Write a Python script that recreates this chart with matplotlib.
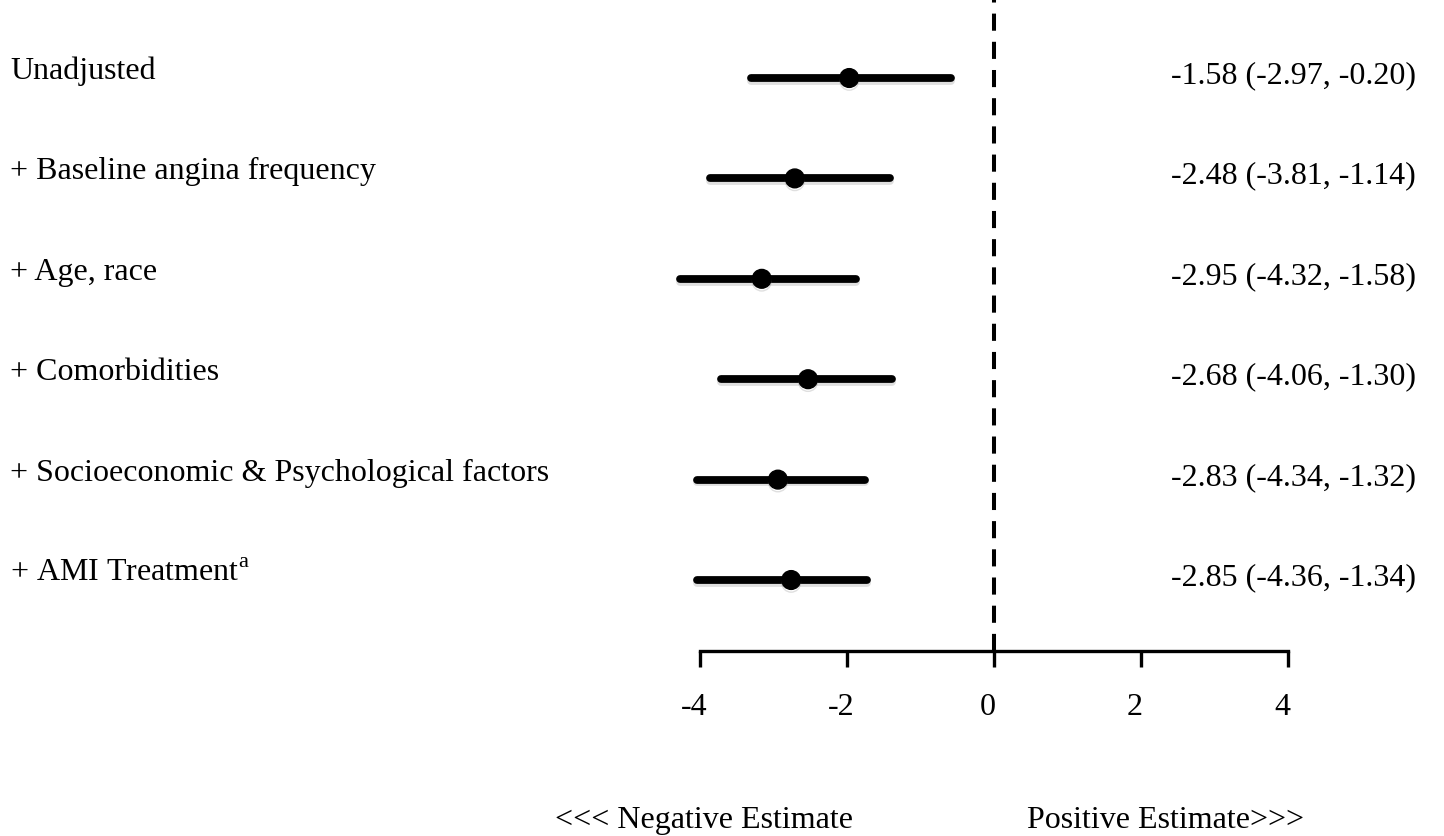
import matplotlib
matplotlib.use("Agg")
import matplotlib.pyplot as plt
import matplotlib.patheffects as pe
from matplotlib.transforms import ScaledTranslation

plt.rcParams['font.family'] = ['Liberation Serif', 'DejaVu Serif']
plt.rcParams['mathtext.fontset'] = 'custom'
plt.rcParams['mathtext.rm'] = 'Liberation Serif'

# Datos
modelos = ['Unadjusted',
           '+ Baseline angina frequency',
           '+ Age, race',
           '+ Comorbidities',
           '+ Socioeconomic & Psychological factors',
           '+ AMI Treatment$^{\\mathrm{a}}$']
estimacion = [-1.97, -2.71, -3.16, -2.53, -2.94, -2.76]
ic_inf = [-3.31, -3.86, -4.27, -3.71, -4.04, -4.04]
ic_sup = [-0.59, -1.41, -1.88, -1.39, -1.76, -1.73]
etiquetas_ic = ['-1.58 (-2.97, -0.20)',
                '-2.48 (-3.81, -1.14)',
                '-2.95 (-4.32, -1.58)',
                '-2.68 (-4.06, -1.30)',
                '-2.83 (-4.34, -1.32)',
                '-2.85 (-4.36, -1.34)']
ticks_x = [-4, -2, 0, 2, 4]

W, H = 1444, 837
fig = plt.figure(figsize=(W / 100, H / 100), dpi=100)
ax = fig.add_axes([700 / W, 1 - 652 / H, 588 / W, 652 / H])

sombra = [pe.SimpleLineShadow(offset=(0, -2), shadow_color='gray', alpha=0.25), pe.Normal()]
for i in range(len(modelos)):
    ax.plot([ic_inf[i], ic_sup[i]], [i, i], color='black', lw=5.6,
            solid_capstyle='round', path_effects=sombra, clip_on=False)
    ax.plot(estimacion[i], i, 'o', color='black', ms=13.5, path_effects=sombra, clip_on=False)

ax.axvline(0, color='black', lw=2.9, linestyle=(0, (4.25, 2.75)))

ax.set_xlim(-4, 4)
ax.set_ylim(5.707, -0.787)
ax.set_yticks([])
for s in ['top', 'right', 'left']:
    ax.spines[s].set_visible(False)
ax.spines['bottom'].set_linewidth(2.4)
ax.set_xticks(ticks_x)
ax.set_xticklabels([str(t) for t in ticks_x], fontsize=23)
ax.tick_params(axis='x', direction='out', length=11.5, width=2.4, pad=18)
for lab in ax.get_xticklabels():
    lab.set_transform(lab.get_transform() + ScaledTranslation(-6 / 100, 0, fig.dpi_scale_trans))

# Etiquetas a la izquierda y a la derecha
for i in range(len(modelos)):
    ax.annotate(modelos[i], xy=(10 / W, i), xycoords=('figure fraction', 'data'),
                ha='left', va='baseline', fontsize=23, annotation_clip=False)
    ax.annotate(etiquetas_ic[i], xy=(1416 / W, i), xycoords=('figure fraction', 'data'),
                xytext=(0, -3), textcoords='offset points',
                ha='right', va='baseline', fontsize=23, annotation_clip=False)

fig.text(555 / W, 1 - 828 / H, '<<< Negative Estimate', fontsize=23, ha='left', va='baseline')
fig.text(1027 / W, 1 - 828 / H, 'Positive Estimate>>>', fontsize=23, ha='left', va='baseline')

fig.savefig('out.png', dpi=100)
